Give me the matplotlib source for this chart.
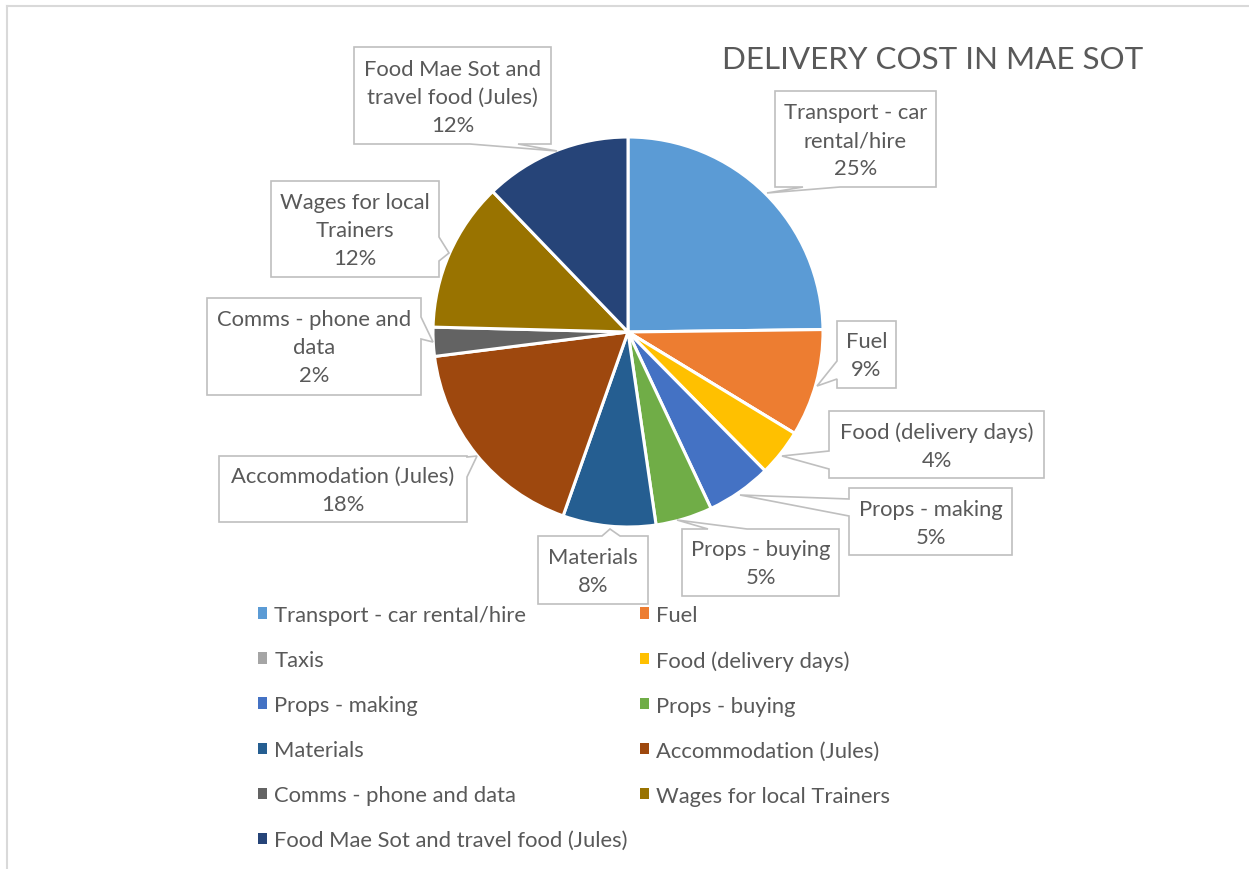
import matplotlib
matplotlib.use("Agg")
import matplotlib.pyplot as plt
from matplotlib.patches import Polygon, Rectangle
from matplotlib.legend import Legend

# data
categories = ["Transport - car rental/hire", "Fuel", "Taxis", "Food (delivery days)",
              "Props - making", "Props - buying", "Materials", "Accommodation (Jules)",
              "Comms - phone and data", "Wages for local Trainers",
              "Food Mae Sot and travel food (Jules)"]
shares = [24.8, 8.9, 0.0, 3.9, 5.4, 4.7, 7.7, 17.6, 2.4, 12.4, 12.2]
colors = ["#5B9BD5", "#ED7D31", "#A5A5A5", "#FFC000", "#4472C4", "#70AD47",
          "#255E91", "#9E480E", "#636363", "#997300", "#264478"]
# wrapped names as they appear in the data callouts
label_names = ["Transport - car\nrental/hire", "Fuel", "Taxis", "Food (delivery days)",
               "Props - making", "Props - buying", "Materials", "Accommodation (Jules)",
               "Comms - phone and\ndata", "Wages for local\nTrainers",
               "Food Mae Sot and\ntravel food (Jules)"]

W, H = 1249, 870
INK = "#595959"; EDGE = "#BFBFBF"
FS = 15.8
plt.rcParams["font.family"] = ["Lato", "DejaVu Sans"]

fig = plt.figure(figsize=(W / 100, H / 100), dpi=100)
ax = fig.add_axes([0, 0, 1, 1])

def Y(y):  # image row -> data y
    return H - y

cx, cy, R = 628, 333, 195
wedges, _ = ax.pie(shares, colors=colors, startangle=90, counterclock=False,
                   center=(cx, Y(cy)), radius=R,
                   wedgeprops=dict(edgecolor="white", linewidth=2.2))
ax.set_xlim(0, W); ax.set_ylim(0, H)
ax.set_aspect("auto")
ax.axis("off")

# callout boxes: (index, box x0,y0,x1,y1, side, base a,b, tip)
callouts = [
    (0, (775, 92, 936, 188), "bottom", (803, 840), (767, 194)),
    (1, (837, 322, 896, 389), "left", (362, 380), (817, 387)),
    (3, (829, 412, 1044, 479), "left", (452, 470), (782, 457)),
    (4, (849, 489, 1012, 556), "left", (500, 517), (740, 496)),
    (5, (682, 530, 839, 597), "top", (708, 747), (677, 521)),
    (6, (538, 537, 648, 605), "top", (602, 620), (610, 530)),
    (7, (219, 457, 467, 523), "right", (458, 478), (477, 457)),
    (8, (207, 299, 421, 396), "right", (318, 340), (433, 343)),
    (9, (271, 182, 439, 278), "right", (238, 262), (449, 254)),
    (10, (354, 48, 551, 145), "bottom", (470, 518), (557, 152)),
]

for i, (x0, y0, x1, y1), side, (a, b), tip in callouts:
    pts = [(x0, y0)]
    if side == "top":
        pts += [(a, y0), tip, (b, y0)]
    pts += [(x1, y0)]
    if side == "right":
        pts += [(x1, a), tip, (x1, b)]
    pts += [(x1, y1)]
    if side == "bottom":
        pts += [(b, y1), tip, (a, y1)]
    pts += [(x0, y1)]
    if side == "left":
        pts += [(x0, b), tip, (x0, a)]
    ax.add_patch(Polygon([(x, Y(y)) for x, y in pts], closed=True, fc="white",
                         ec=EDGE, lw=1.2, zorder=3))
    ax.text((x0 + x1) / 2, Y((y0 + y1) / 2 + 1), f"{label_names[i]}\n{shares[i]:.0f}%",
            ha="center", va="center", fontsize=FS, color=INK, linespacing=1.5, zorder=4)

ax.text(933, Y(60), "DELIVERY COST IN MAE SOT", ha="center", va="center",
        fontsize=22.6, color=INK)

# chart border (only left/top visible in the crop)
ax.plot([7, 7], [Y(7), 0], color="#D9D9D9", lw=1.5)
ax.plot([7, W], [Y(7), Y(7)], color="#D9D9D9", lw=1.5)

# legend: row-wise order, two columns
handles = [Rectangle((0, 0), 1, 1, fc=c, ec="none") for c in colors]
for col, x in ((0, 247), (1, 629)):
    idx = list(range(col, len(categories), 2))
    leg = Legend(ax, [handles[k] for k in idx], [categories[k] for k in idx],
                 loc="upper left", bbox_to_anchor=(x / W, 1 - 595 / H),
                 bbox_transform=fig.transFigure, frameon=False,
                 fontsize=FS, handlelength=0.42, handleheight=0.42,
                 handletextpad=0.32, labelspacing=1.14, borderpad=0,
                 labelcolor=INK)
    ax.add_artist(leg)

fig.savefig("out.png", dpi=100, facecolor="white")
